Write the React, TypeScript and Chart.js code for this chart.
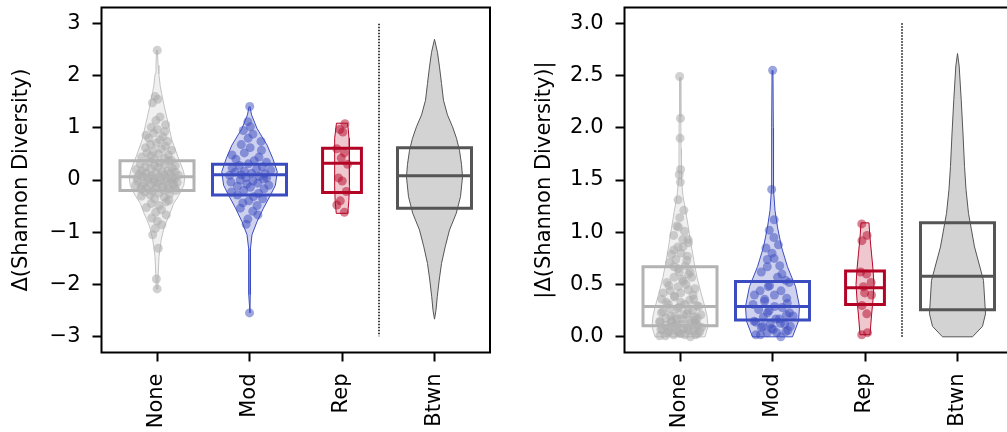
import React, { useEffect, useRef } from 'react';
import { Chart, registerables } from 'chart.js';

Chart.register(...registerables);

// ---------- data ----------
const categories = ['None', 'Mod', 'Rep', 'Btwn'];
const leftTicks = [-3, -2, -1, 0, 1, 2, 3];
const rightTicks = [0, 0.5, 1, 1.5, 2, 2.5, 3];
const leftTitle = 'Δ(Shannon Diversity)';
const rightTitle = '|Δ(Shannon Diversity)|';

const noneDelta = [
  2.49, 1.60, 1.55, 1.48, 1.21, 1.14, 1.06, 1.01, 0.97, 0.93, 0.90, 0.86, 0.83, 0.80,
  0.77, 0.74, 0.71, 0.68, 0.65, 0.62, 0.60, 0.57, 0.55, 0.52, 0.50,
  0.48, 0.46, 0.44, 0.42, 0.40, 0.38, 0.36, 0.35, 0.33, 0.31, 0.30,
  0.28, 0.27, 0.25, 0.24, 0.22, 0.21, 0.20, 0.18, 0.17, 0.16, 0.15, 0.14, 0.13, 0.12, 0.11, 0.10,
  0.09, 0.08, 0.07, 0.06, 0.05, 0.05, 0.04, 0.03, 0.02, 0.02, 0.01, 0.00,
  -0.01, -0.02, -0.03, -0.04, -0.05, -0.06, -0.07, -0.08, -0.09, -0.10, -0.11, -0.12, -0.13,
  -0.14, -0.15, -0.16, -0.17, -0.18, -0.19, -0.20, -0.21,
  -0.23, -0.25, -0.27, -0.29, -0.31, -0.33, -0.36, -0.39, -0.42, -0.45,
  -0.49, -0.53, -0.57, -0.62, -0.67, -0.73, -0.79, -0.86, -0.93, -1.05, -1.31, -1.90, -2.09,
];
const modDelta = [
  1.41, 1.12, 1.02, 0.95, 0.88, 0.80, 0.74, 0.68, 0.62, 0.57, 0.52, 0.48, 0.44, 0.40,
  0.37, 0.34, 0.31, 0.28, 0.25, 0.23, 0.21, 0.19, 0.17, 0.15, 0.13, 0.12, 0.10, 0.09,
  0.07, 0.05, 0.04, 0.02, 0.00, -0.02, -0.04, -0.06, -0.08, -0.10, -0.12, -0.14, -0.17,
  -0.20, -0.23, -0.26, -0.29, -0.32, -0.36, -0.40, -0.44, -0.49, -0.54, -0.60, -0.67,
  -0.75, -0.85, -2.55,
];
const repDelta = [1.08, 0.97, 0.92, 0.60, 0.52, 0.42, 0.30, 0.04, -0.02, -0.22, -0.40, -0.48, -0.62];

const noneAbs = noneDelta.map(Math.abs);
const modAbs = modDelta.map(Math.abs);
const repAbs = repDelta.map(Math.abs);

// box statistics (None, Mod, Rep, Btwn)
const leftQ1 = [-0.20, -0.29, -0.24, -0.54];
const leftMedian = [0.06, 0.10, 0.32, 0.08];
const leftQ3 = [0.37, 0.30, 0.61, 0.62];
const rightQ1 = [0.105, 0.16, 0.31, 0.26];
const rightMedian = [0.29, 0.29, 0.47, 0.58];
const rightQ3 = [0.67, 0.53, 0.63, 1.09];

// violin density profiles: value levels and half-widths (category units)
const leftNoneVY = [2.49, 2.2, 2.04, 1.8, 1.66, 1.4, 1.09, 0.77, 0.45, 0.2, 0.06, -0.1, -0.3, -0.45, -0.64, -0.89, -1.15, -1.47, -1.8, -2.09];
const leftNoneVW = [0.005, 0.011, 0.02, 0.035, 0.05, 0.08, 0.12, 0.16, 0.225, 0.28, 0.30, 0.29, 0.235, 0.18, 0.14, 0.08, 0.045, 0.022, 0.013, 0.008];
const leftModVY = [1.41, 1.25, 0.99, 0.67, 0.42, 0.16, -0.10, -0.29, -0.54, -0.80, -1.05, -1.31, -1.8, -2.2, -2.55];
const leftModVW = [0.005, 0.022, 0.081, 0.19, 0.25, 0.30, 0.28, 0.227, 0.151, 0.081, 0.027, 0.011, 0.008, 0.008, 0.005];
const leftRepVY = [1.09, 1.0, 0.8, 0.5, 0.2, -0.1, -0.4, -0.64];
const leftRepVW = [0.06, 0.066, 0.076, 0.081, 0.081, 0.08, 0.074, 0.062];
const leftBtwnVY = [2.70, 2.45, 2.17, 1.85, 1.53, 1.25, 1.02, 0.8, 0.57, 0.3, 0.06, -0.32, -0.64, -0.96, -1.28, -1.60, -1.92, -2.24, -2.5, -2.67];
const leftBtwnVW = [0.0, 0.032, 0.054, 0.076, 0.097, 0.14, 0.195, 0.238, 0.27, 0.292, 0.303, 0.281, 0.235, 0.162, 0.116, 0.076, 0.051, 0.03, 0.016, 0.0];

const rightNoneVY = [2.48, 2.1, 1.8, 1.5, 1.35, 1.2, 1.05, 0.89, 0.73, 0.57, 0.42, 0.3, 0.2, 0.1, 0.0];
const rightNoneVW = [0.005, 0.009, 0.011, 0.016, 0.032, 0.062, 0.09, 0.119, 0.149, 0.184, 0.227, 0.265, 0.292, 0.303, 0.27];
const rightModVY = [2.55, 2.0, 1.41, 1.21, 1.05, 0.86, 0.67, 0.48, 0.29, 0.15, 0.0];
const rightModVW = [0.005, 0.009, 0.011, 0.027, 0.054, 0.097, 0.162, 0.249, 0.292, 0.281, 0.216];
const rightRepVY = [1.09, 0.95, 0.8, 0.65, 0.5, 0.35, 0.2, 0.02];
const rightRepVW = [0.043, 0.054, 0.07, 0.086, 0.097, 0.086, 0.07, 0.054];
const rightBtwnVY = [2.71, 2.59, 2.27, 1.95, 1.63, 1.41, 1.18, 0.86, 0.54, 0.22, 0.1, 0.0];
const rightBtwnVW = [0, 0.018, 0.04, 0.059, 0.076, 0.092, 0.119, 0.184, 0.281, 0.303, 0.27, 0.162];

// ---------- layout / style ----------
const jitterPattern = [0.62, -0.41, 0.15, -0.83, 0.37, -0.12, 0.88, -0.56, 0.04, 0.71, -0.29, -0.94, 0.49, -0.68, 0.23, 0.81, -0.05, -0.47, 0.58, -0.77, 0.31, 0.92, -0.22, -0.61, 0.09, 0.66, -0.36, -0.86, 0.42, -0.15, 0.75];
const boxHalf = [0.4, 0.4, 0.21, 0.4];
const separatorPos = 2.4;
const FONT = "'DejaVu Sans', 'Liberation Sans', sans-serif";

const groupStyles = [
  { box: '#b3b3b3', point: 'rgba(172,172,172,0.55)', fill: 'rgba(200,200,200,0.28)', edge: '#c2c2c2' },
  { box: '#3b4cc0', point: 'rgba(59,76,192,0.5)', fill: 'rgba(59,76,192,0.25)', edge: '#3b4cc0' },
  { box: '#b40426', point: 'rgba(180,4,38,0.5)', fill: 'rgba(180,4,38,0.22)', edge: '#b40426' },
  { box: '#555555', point: 'rgba(0,0,0,0)', fill: '#d3d3d3', edge: '#555555' },
];

function halfWidthAt(v: number, ys: number[], ws: number[]) {
  if (v >= ys[0]) return ws[0];
  for (let i = 0; i < ys.length - 1; i++) {
    if (v >= ys[i + 1]) {
      const t = (ys[i] - v) / (ys[i] - ys[i + 1]);
      return ws[i] + t * (ws[i + 1] - ws[i]);
    }
  }
  return ws[ws.length - 1];
}

type Group = { values: number[] | null; vy: number[]; vw: number[]; q1: number; med: number; q3: number };

function buildDatasets(groups: Group[], sepTop: number, sepBottom: number, shift: number) {
  const ds: any[] = [];
  groups.forEach((g, c) => {
    const st = groupStyles[c];
    const right = g.vy.map((y, i) => ({ x: c + g.vw[i], y }));
    const left = g.vy.map((y, i) => ({ x: c - g.vw[i], y })).reverse();
    const poly = [...right, ...left, right[0]];
    ds.push({
      type: 'line', data: poly, borderColor: st.edge, borderWidth: 1, backgroundColor: st.fill,
      fill: 'shape', pointRadius: 0, tension: 0, order: 3,
    });
    if (g.values) {
      const n = jitterPattern.length;
      ds.push({
        type: 'scatter',
        data: g.values.map((v, i) => ({
          x: c + jitterPattern[(i + shift) % n] * 0.85 * halfWidthAt(v, g.vy, g.vw),
          y: v,
        })),
        backgroundColor: st.point, borderWidth: 0, pointRadius: 4.5, order: 2,
      });
    }
    const h = boxHalf[c];
    ds.push({
      type: 'line',
      data: [{ x: c - h, y: g.q1 }, { x: c + h, y: g.q1 }, { x: c + h, y: g.q3 }, { x: c - h, y: g.q3 }, { x: c - h, y: g.q1 }],
      borderColor: st.box, borderWidth: 3, fill: false, pointRadius: 0, order: 1,
      borderCapStyle: 'square', borderJoinStyle: 'miter',
    });
    ds.push({
      type: 'line',
      data: [{ x: c - h, y: g.med }, { x: c + h, y: g.med }],
      borderColor: st.box, borderWidth: 3, fill: false, pointRadius: 0, order: 1,
    });
  });
  ds.push({
    type: 'line',
    data: [{ x: separatorPos, y: sepTop }, { x: separatorPos, y: sepBottom }],
    borderColor: '#000', borderWidth: 1.5, borderDash: [1.5, 1.5], fill: false, pointRadius: 0, order: 3,
  });
  return ds;
}

const framePlugin = {
  id: 'frame',
  afterDatasetsDraw(chart: any) {
    const { ctx, chartArea } = chart;
    ctx.save();
    ctx.strokeStyle = '#000';
    ctx.lineWidth = 2;
    ctx.strokeRect(chartArea.left, chartArea.top, chartArea.right - chartArea.left, chartArea.bottom - chartArea.top);
    ctx.restore();
  },
};

function makeConfig(datasets: any[], yMin: number, yMax: number, yTicks: number[], title: string, fmt: (v: number) => string) {
  const tickFont = { family: FONT, size: 21 };
  const grid = { display: true, drawOnChartArea: false, drawTicks: true, tickLength: 9, tickWidth: 2, tickColor: '#000' };
  return {
    type: 'scatter',
    data: { datasets },
    plugins: [framePlugin],
    options: {
      animation: false,
      responsive: false,
      events: [],
      layout: { padding: { top: 7.5, right: 10, bottom: 0, left: 0 } },
      plugins: { legend: { display: false }, tooltip: { enabled: false } },
      scales: {
        x: {
          type: 'linear', min: -0.6, max: 3.6,
          afterBuildTicks: (s: any) => { s.ticks = categories.map((_, i) => ({ value: i })); },
          afterFit: (s: any) => { s.height = 79.5; s.paddingLeft = 0; s.paddingRight = 0; },
          ticks: {
            autoSkip: false, minRotation: 90, maxRotation: 90, padding: 12, color: '#000', font: tickFont,
            callback: (v: any) => categories[Math.round(Number(v))] ?? '',
          },
          grid, border: { display: false },
        },
        y: {
          type: 'linear', min: yMin, max: yMax,
          afterBuildTicks: (s: any) => { s.ticks = yTicks.map((v) => ({ value: v })); },
          afterFit: (s: any) => { s.width = 101.5; s.paddingTop = 0; s.paddingBottom = 0; },
          ticks: { padding: 12, color: '#000', font: tickFont, callback: (v: any) => fmt(Number(v)) },
          title: { display: true, text: title, color: '#000', font: tickFont, padding: { top: 9, bottom: 0 } },
          grid, border: { display: false },
        },
      },
    },
  };
}

export default function App() {
  const leftRef = useRef<HTMLCanvasElement | null>(null);
  const rightRef = useRef<HTMLCanvasElement | null>(null);

  useEffect(() => {
    const leftGroups: Group[] = [
      { values: noneDelta, vy: leftNoneVY, vw: leftNoneVW, q1: leftQ1[0], med: leftMedian[0], q3: leftQ3[0] },
      { values: modDelta, vy: leftModVY, vw: leftModVW, q1: leftQ1[1], med: leftMedian[1], q3: leftQ3[1] },
      { values: repDelta, vy: leftRepVY, vw: leftRepVW, q1: leftQ1[2], med: leftMedian[2], q3: leftQ3[2] },
      { values: null, vy: leftBtwnVY, vw: leftBtwnVW, q1: leftQ1[3], med: leftMedian[3], q3: leftQ3[3] },
    ];
    const rightGroups: Group[] = [
      { values: noneAbs, vy: rightNoneVY, vw: rightNoneVW, q1: rightQ1[0], med: rightMedian[0], q3: rightQ3[0] },
      { values: modAbs, vy: rightModVY, vw: rightModVW, q1: rightQ1[1], med: rightMedian[1], q3: rightQ3[1] },
      { values: repAbs, vy: rightRepVY, vw: rightRepVW, q1: rightQ1[2], med: rightMedian[2], q3: rightQ3[2] },
      { values: null, vy: rightBtwnVY, vw: rightBtwnVW, q1: rightQ1[3], med: rightMedian[3], q3: rightQ3[3] },
    ];
    const leftFmt = (v: number) => (v < 0 ? '\u2212' + Math.abs(v) : String(v));
    const rightFmt = (v: number) => v.toFixed(1);
    const c1 = new Chart(leftRef.current as HTMLCanvasElement,
      makeConfig(buildDatasets(leftGroups, 3.0, -3.0, 0), -3.31, 3.31, leftTicks, leftTitle, leftFmt) as any);
    const c2 = new Chart(rightRef.current as HTMLCanvasElement,
      makeConfig(buildDatasets(rightGroups, 3.0, 0.0, 11), -0.15, 3.15, rightTicks, rightTitle, rightFmt) as any);
    return () => { c1.destroy(); c2.destroy(); };
  }, []);

  return (
    <div style={{ position: 'fixed', left: 0, top: 0, width: 1007, height: 432, overflow: 'hidden', background: '#fff' }}>
      <canvas ref={leftRef} width={500} height={432} style={{ position: 'absolute', left: 0, top: 0, width: 500, height: 432 }} />
      <canvas ref={rightRef} width={500} height={432} style={{ position: 'absolute', left: 523, top: 0, width: 500, height: 432 }} />
    </div>
  );
}
